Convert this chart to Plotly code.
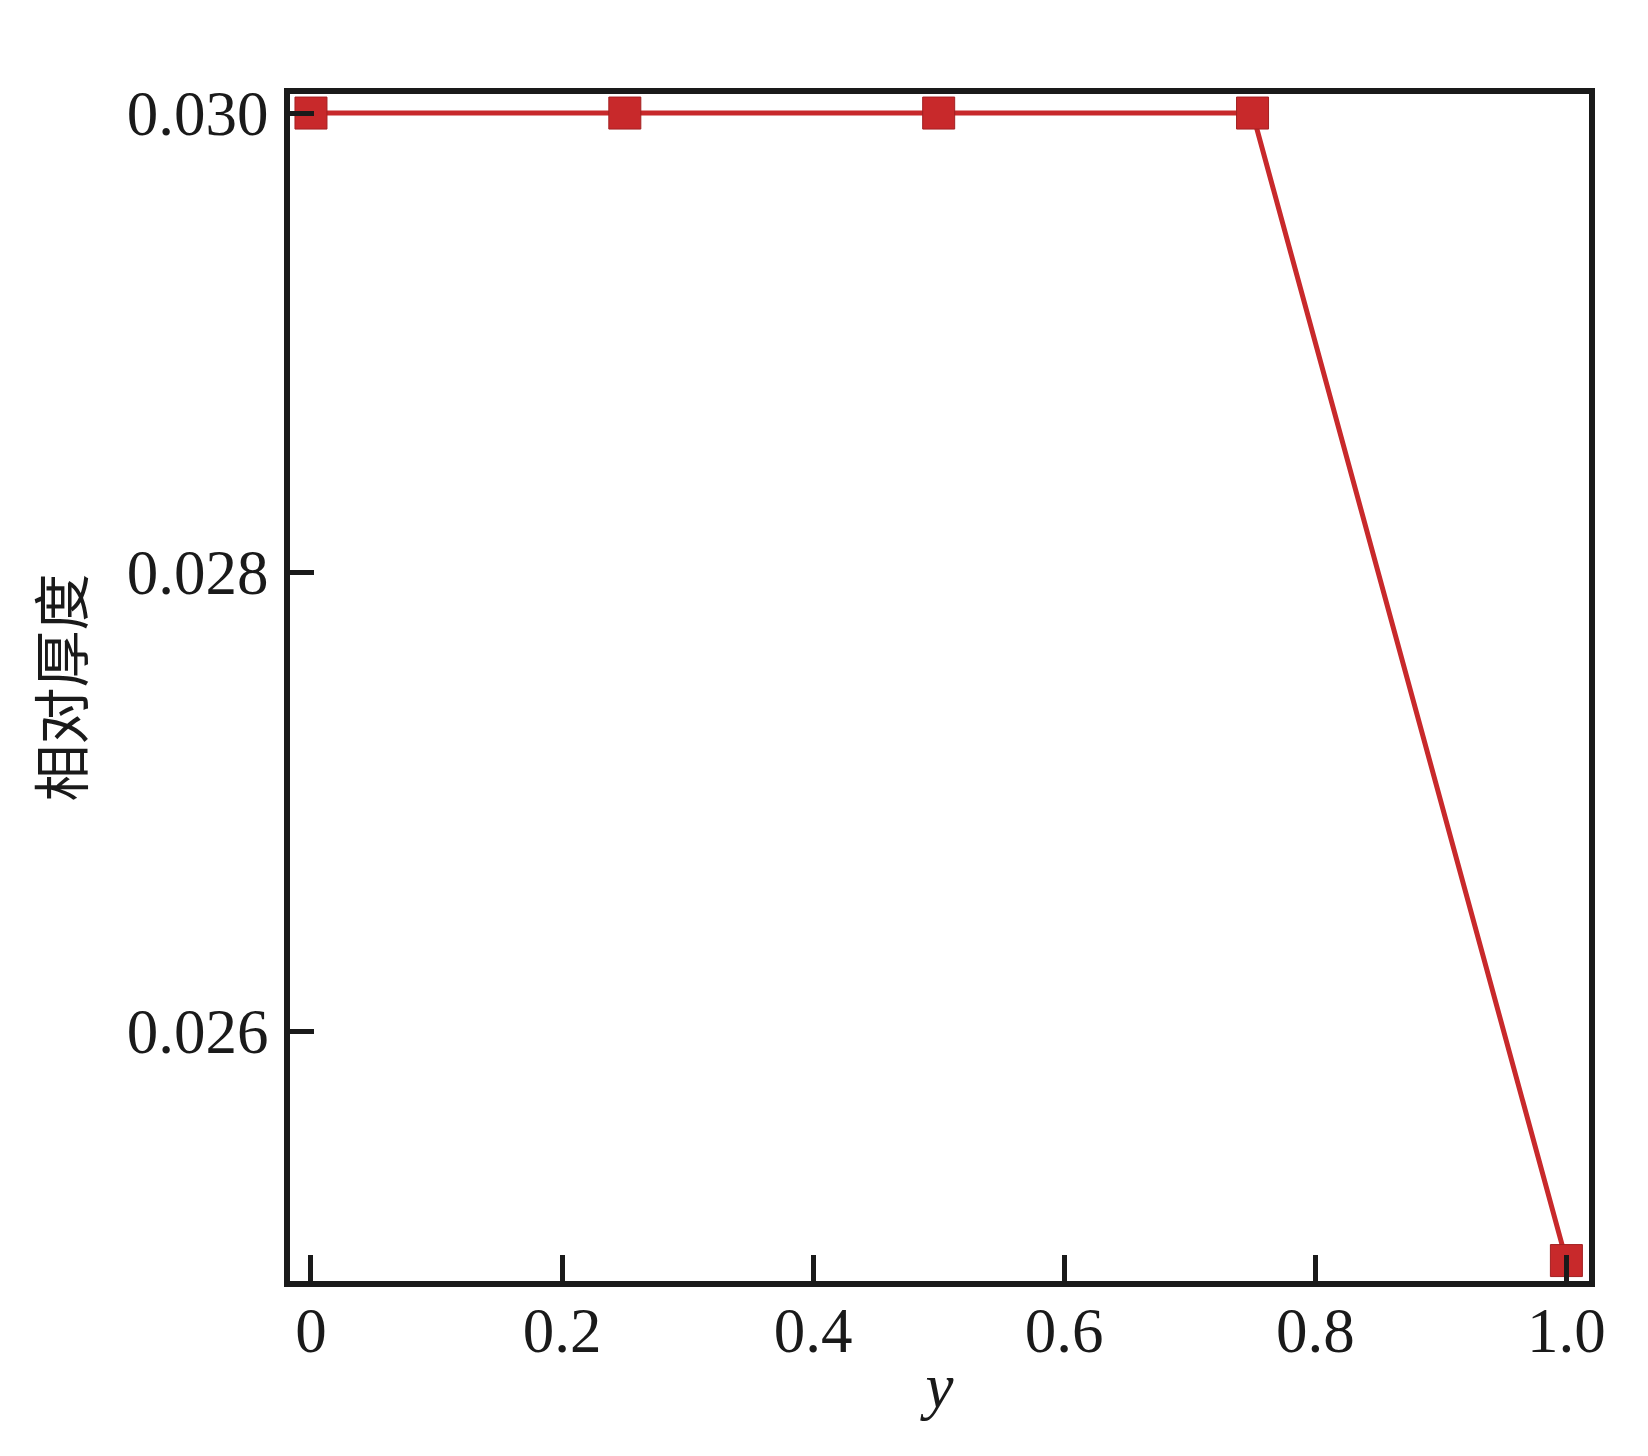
import plotly.graph_objects as go

# data
y_pos = [0, 0.25, 0.5, 0.75, 1.0]
thickness = [0.030, 0.030, 0.030, 0.030, 0.025]

x_ticks = [0, 0.2, 0.4, 0.6, 0.8, 1.0]
x_tick_text = ["0", "0.2", "0.4", "0.6", "0.8", "1.0"]
y_ticks = [0.026, 0.028, 0.030]
y_tick_text = ["0.026", "0.028", "0.030"]

red = "#c8292b"
ink = "#1a1a1a"
serif = "Liberation Serif, Times New Roman, Times, serif"

fig = go.Figure()

fig.add_trace(go.Scatter(
    x=y_pos,
    y=thickness,
    mode="lines+markers",
    line=dict(color=red, width=5),
    marker=dict(symbol="square", size=32, color=red,
                line=dict(color="#a32022", width=1)),
    showlegend=False,
))

# page body adds 8px all round, so the figure is 16px smaller
fig.update_layout(
    width=1632,
    height=1440,
    margin=dict(l=282, r=51, t=86, b=167),
    plot_bgcolor="white",
    paper_bgcolor="white",
    font=dict(family=serif, size=63, color=ink),
)

fig.update_xaxes(
    range=[-0.0167, 1.018],
    tickvals=x_ticks,
    ticktext=x_tick_text,
    ticks="inside",
    ticklen=26,
    tickwidth=5,
    tickcolor=ink,
    showline=True,
    linewidth=6,
    linecolor=ink,
    mirror=True,
    showgrid=False,
    zeroline=False,
    ticklabelstandoff=-11,
    title=dict(text="<i>y</i>", font=dict(family=serif, size=63),
               standoff=0),
)

fig.update_yaxes(
    range=[0.024911, 0.030083],
    tickvals=y_ticks,
    ticktext=y_tick_text,
    ticks="inside",
    ticklen=24,
    tickwidth=5,
    tickcolor=ink,
    showline=True,
    linewidth=6,
    linecolor=ink,
    mirror=True,
    showgrid=False,
    zeroline=False,
    ticklabelstandoff=3,
    title=dict(text="相对厚度", font=dict(family="Noto Sans CJK SC", size=57),
               standoff=27),
)

fig.write_html("out.html")
